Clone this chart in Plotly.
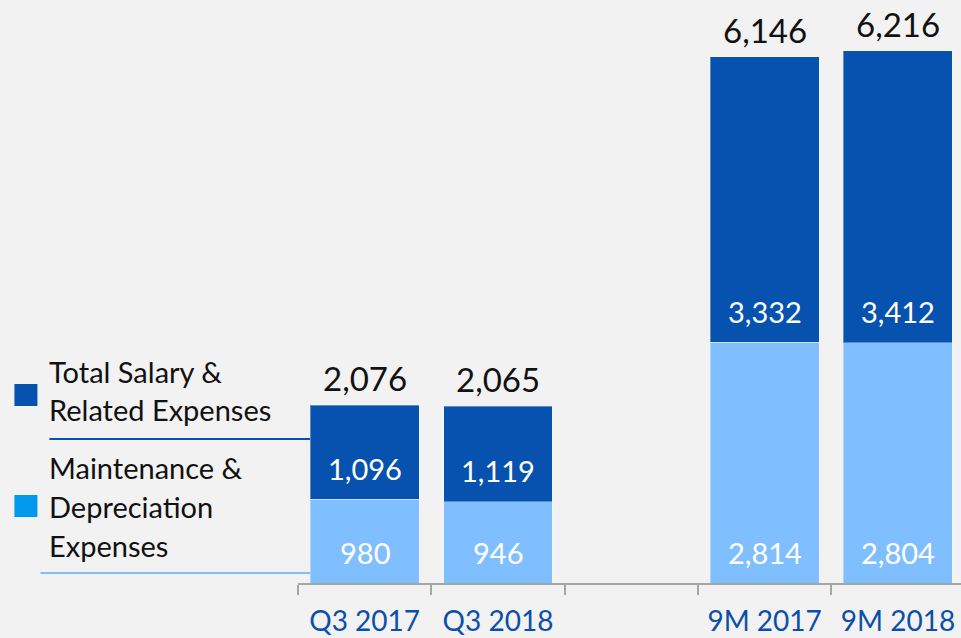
import plotly.graph_objects as go

categories = ["Q3 2017", "Q3 2018", " ", "9M 2017", "9M 2018"]
maintenance = [980, 946, None, 2814, 2804]
salary = [1096, 1119, None, 3332, 3412]
totals = [2076, 2065, None, 6146, 6216]
series_names = ["Total Salary & Related Expenses", "Maintenance & Depreciation Expenses"]
legend_lines_salary = ["Total Salary &", "Related Expenses"]
legend_lines_maint = ["Maintenance &", "Depreciation", "Expenses"]

DARK = "#0652ae"
LIGHT = "#7fbfff"
LEG_LIGHT = "#0099ee"
FONT = "Lato, Open Sans, sans-serif"

W, H = 961, 638
L, T, B = 297.7, 0, 55
PW = W - L
PH = H - T - B

def px(x):
    return (x - L) / PW

def py(y):
    return (H - B - y) / PH

fig = go.Figure()
fig.add_trace(go.Bar(x=categories, y=maintenance, name=series_names[1],
                     marker=dict(color=LIGHT, line=dict(color="rgba(255,255,255,0.35)", width=1))))
fig.add_trace(go.Bar(x=categories, y=salary, name=series_names[0],
                     marker=dict(color=DARK, line=dict(color="rgba(255,255,255,0.35)", width=1))))

annotations = []
for c, m, s, t in zip(categories, maintenance, salary, totals):
    if m is None:
        continue
    annotations.append(dict(x=c, y=0, text=f"{m:,}", showarrow=False, yanchor="middle",
                            yshift=31, font=dict(family=FONT, size=29, color="white")))
    annotations.append(dict(x=c, y=m, text=f"{s:,}", showarrow=False, yanchor="middle",
                            yshift=31, font=dict(family=FONT, size=29, color="white")))
    annotations.append(dict(x=c, y=t, text=f"{t:,}", showarrow=False, yanchor="middle",
                            yshift=27, font=dict(family=FONT, size=33, color="#111111")))

for i, line in enumerate(legend_lines_salary):
    annotations.append(dict(xref="paper", yref="paper", x=px(47), y=py(371 + i * 38),
                            xanchor="left", yanchor="middle", text=line, showarrow=False,
                            font=dict(family=FONT, size=29, color="#111111")))
for i, line in enumerate(legend_lines_maint):
    annotations.append(dict(xref="paper", yref="paper", x=px(47), y=py(467 + i * 39),
                            xanchor="left", yanchor="middle", text=line, showarrow=False,
                            font=dict(family=FONT, size=29, color="#111111")))

shapes = [
    dict(type="rect", xref="paper", yref="paper", x0=px(14), x1=px(37), y0=py(406), y1=py(384),
         fillcolor=DARK, line=dict(width=0), layer="above"),
    dict(type="rect", xref="paper", yref="paper", x0=px(14), x1=px(37), y0=py(517), y1=py(495),
         fillcolor=LEG_LIGHT, line=dict(width=0), layer="above"),
    dict(type="line", xref="paper", yref="paper", x0=px(49), x1=px(310), y0=py(439), y1=py(439),
         line=dict(color=DARK, width=2), layer="below"),
    dict(type="line", xref="paper", yref="paper", x0=px(40), x1=px(310), y0=py(573), y1=py(573),
         line=dict(color=LIGHT, width=2), layer="below"),
]

fig.update_layout(
    width=W, height=H,
    barmode="stack", bargap=0.183,
    paper_bgcolor="#f2f2f2", plot_bgcolor="#f2f2f2",
    margin=dict(l=L, r=0, t=T, b=B, pad=0),
    showlegend=False,
    annotations=annotations,
    shapes=shapes,
    xaxis=dict(type="category", categoryorder="array", categoryarray=categories,
               range=[-0.5, 4.473], showline=True, linecolor="#a6a6a6", linewidth=2,
               ticks="outside", tickson="boundaries", ticklen=10, tickcolor="#a6a6a6", tickwidth=2,
               showgrid=False, tickfont=dict(family=FONT, size=28, color="#0b4fa8"),
               ticklabelstandoff=12),
    yaxis=dict(range=[0, 6808], visible=False, showgrid=False, zeroline=False),
)

fig.write_html("out.html", config={"displayModeBar": False},
               post_script="document.body.style.margin='0';document.body.style.background='#f2f2f2';")
